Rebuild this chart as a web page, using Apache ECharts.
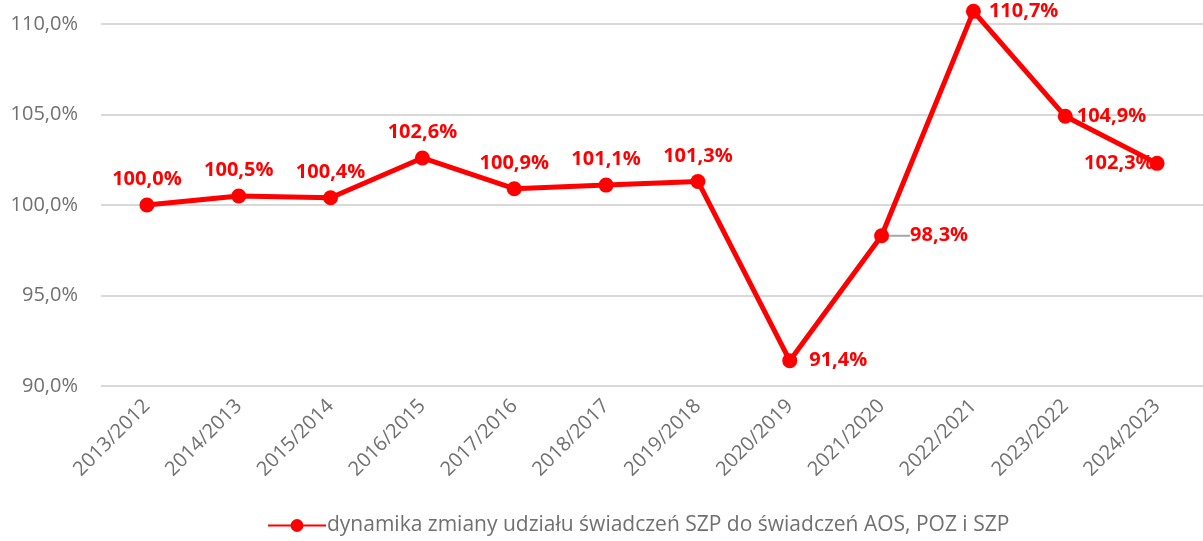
<!DOCTYPE html>
<html>
<head>
<meta charset="utf-8">
<script src="https://cdn.jsdelivr.net/npm/echarts@6/dist/echarts.min.js"></script>
<style>
  html, body { margin: 0; padding: 0; background: #fff; }
  #chart { width: 1203px; height: 541px; }
</style>
</head>
<body>
<div id="chart"></div>
<script>
// okresy porównania (rok/rok poprzedni)
const categories = ["2013/2012", "2014/2013", "2015/2014", "2016/2015", "2017/2016", "2018/2017",
  "2019/2018", "2020/2019", "2021/2020", "2022/2021", "2023/2022", "2024/2023"];
const values = [100.0, 100.5, 100.4, 102.6, 100.9, 101.1, 101.3, 91.4, 98.3, 110.7, 104.9, 102.3];
// pozycje etykiet danych
const labelPos = ["top", "top", "top", "top", "top", "top", "top", "right", "right", "right", "right", "left"];
const seriesName = "dynamika zmiany udziału świadczeń SZP do świadczeń AOS, POZ i SZP";

const fmt = (v) => v.toFixed(1).replace(".", ",") + "%";
const grey = "#707070";

const chart = echarts.init(document.getElementById("chart"));

const data = values.map((v, i) => {
  const item = { value: v, label: { position: labelPos[i] } };
  if (labelPos[i] === "top") item.label.distance = 8;
  if (i === 7) item.label.distance = 12;
  if (i === 8) item.label.distance = 21;
  if (i === 9) { item.label.distance = 8; item.label.offset = [0, 6]; }
  if (i === 10) item.label.distance = 4;
  if (i === 11) { item.label.distance = -4; item.label.offset = [0, 8]; }
  return item;
});

chart.setOption({
  animation: false,
  grid: { left: 101, top: 24, width: 1115, height: 362 },
  legend: {
    bottom: 0,
    left: 262,
    itemWidth: 58,
    itemHeight: 16,
    itemGap: 4,
    textStyle: { color: grey, fontSize: 21, fontFamily: "Open Sans", padding: [0, 0, 0, -4] },
    data: [seriesName]
  },
  xAxis: {
    type: "category",
    data: categories,
    boundaryGap: true,
    axisLine: { show: false },
    axisTick: { show: false },
    axisLabel: {
      rotate: 45,
      interval: 0,
      margin: 17,
      color: grey,
      fontSize: 20,
      fontFamily: "Open Sans"
    }
  },
  yAxis: {
    type: "value",
    min: 90,
    max: 110,
    interval: 5,
    axisLine: { show: false },
    axisTick: { show: false },
    splitLine: { lineStyle: { color: "#d9d9d9", width: 2 } },
    axisLabel: {
      margin: 23,
      color: grey,
      fontSize: 20,
      fontFamily: "Open Sans",
      formatter: (v) => v.toFixed(1).replace(".", ",") + "%"
    }
  },
  series: [{
    name: seriesName,
    type: "line",
    data: data,
    clip: false,
    symbol: "circle",
    symbolSize: 15,
    itemStyle: { color: "#ff0000" },
    lineStyle: { color: "#ff0000", width: 5 },
    label: {
      show: true,
      color: "#ff0000",
      fontWeight: "bold",
      fontSize: 20,
      fontFamily: "Open Sans",
      formatter: (p) => fmt(p.value)
    },
    labelLine: { show: false, lineStyle: { color: "#a6a6a6", width: 2 } },
    labelLayout: (p) => (p.dataIndex === 8 ? { dx: 0 } : null)
  }]
});

// linia odniesienia tylko dla etykiety 98,3%
chart.setOption({
  series: [{
    data: data.map((d, i) => (i === 8 ? Object.assign({}, d, { labelLine: { show: true } }) : d))
  }]
});
</script>
</body>
</html>
